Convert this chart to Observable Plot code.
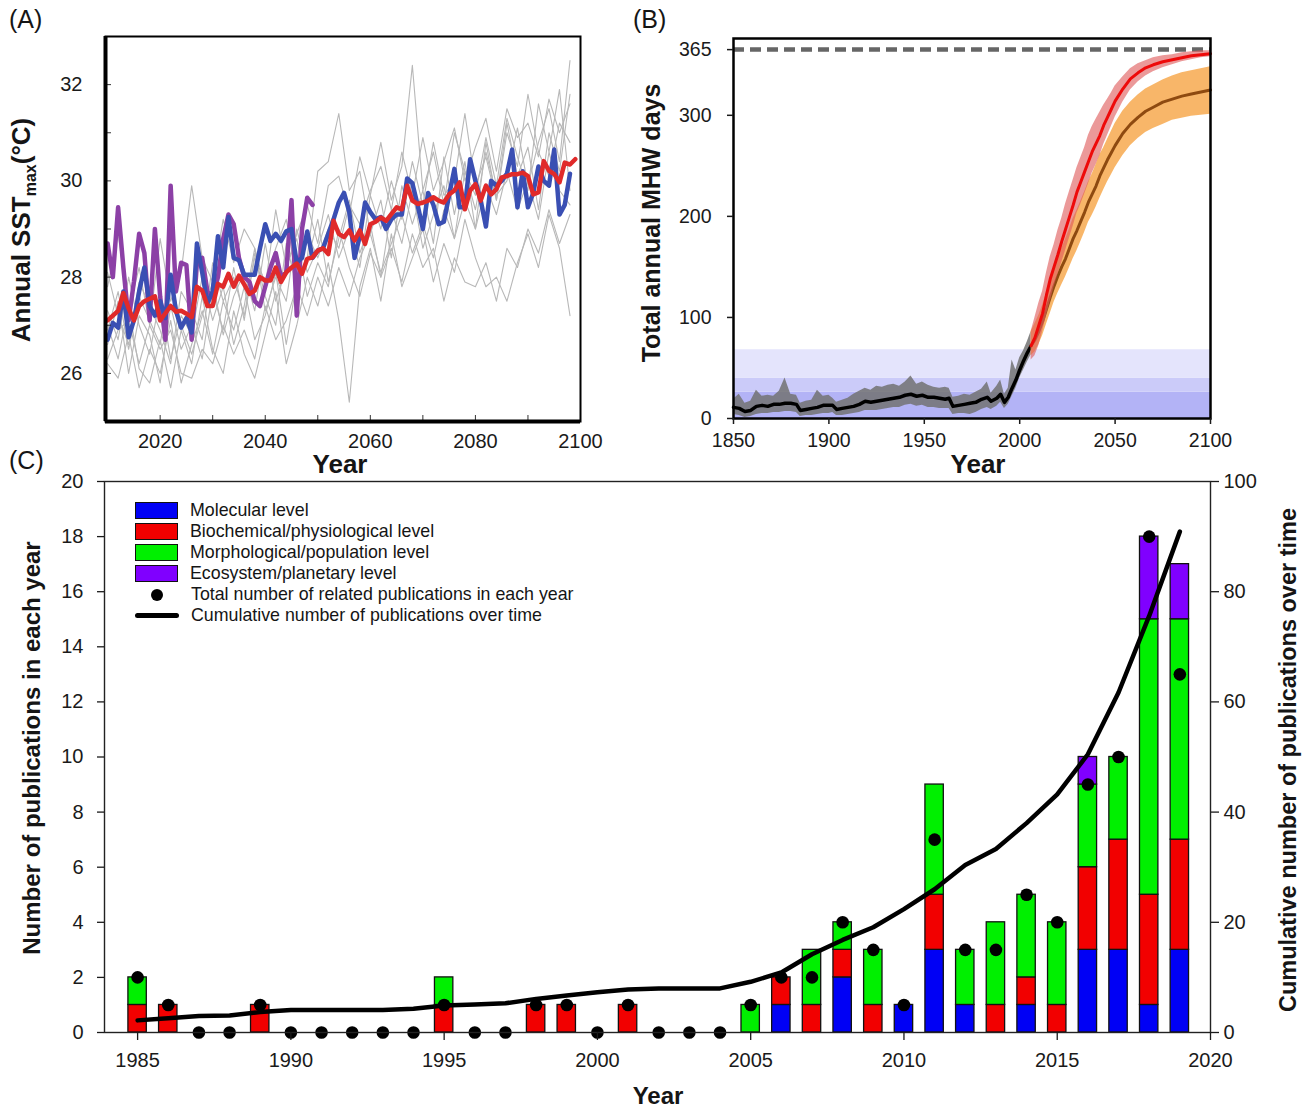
<!DOCTYPE html>
<html><head><meta charset="utf-8">
<script src="https://cdn.jsdelivr.net/npm/d3@7"></script>
<script src="https://cdn.jsdelivr.net/npm/@observablehq/plot@0.6"></script>
<style>
body{margin:0;background:#fff;font-family:"Liberation Sans",Arial,sans-serif;color:#151515}
#wrap{position:relative;width:1305px;height:1112px;overflow:hidden;background:#fff}
.pane{position:absolute}
.t{position:absolute;white-space:nowrap;transform:translate(-50%,-50%);line-height:1.15}
.b{font-weight:bold}
.rot{transform:translate(-50%,-50%) rotate(-90deg)}
.plab{position:absolute;font-size:25px;line-height:1}
.leg{position:absolute;left:135px;top:500px;font-size:17.8px}
.row{position:absolute;left:0;height:21px;display:flex;align-items:center;white-space:nowrap}
.sw{width:41px;height:15px;border:1.5px solid #111;margin-right:12px}
</style></head><body><div id="wrap"></div>
<script>
// ---------------- Panel A data ----------------
const aStart = 2010;
const aRed = [27.1,27.2,27.3,27.67,27.35,27.1,27.4,27.5,27.55,27.6,27.1,27.25,27.4,27.28,27.3,27.24,27.17,27.8,27.72,27.4,27.4,27.86,27.8,28.07,27.8,28.03,27.85,27.65,27.72,28.0,27.93,27.93,28.2,27.9,28.1,28.2,28.28,28.07,28.38,28.41,28.55,28.6,28.48,29.17,28.9,28.83,28.97,28.76,28.97,28.69,29.1,29.15,29.24,29.17,29.31,29.45,29.41,29.9,29.59,29.52,29.55,29.59,29.66,29.59,29.55,29.72,29.8,29.97,29.41,29.8,29.93,29.59,29.9,29.72,29.83,30.07,30.1,30.14,30.14,30.17,30.1,29.72,29.76,30.41,30.21,30.14,29.97,30.38,30.34,30.45];
const aBlue = [26.7,27.05,26.95,27.7,26.75,27.1,27.7,28.2,27.4,27.2,27.5,27.15,28.05,27.3,26.95,27.15,26.85,28.7,28.1,27.45,27.7,28.85,28.2,29.25,28.4,28.35,28.05,28.05,28.05,28.6,29.1,28.75,28.9,28.75,28.95,29.0,28.3,28.4,28.95,28.4,28.55,28.6,28.9,29.2,29.55,29.75,29.35,28.4,28.85,29.55,29.35,29.2,29.25,29.0,29.2,29.3,29.3,30.05,29.95,29.5,29.0,29.75,29.5,29.1,29.15,29.7,30.25,29.45,29.45,30.45,30.0,29.6,29.05,30.0,29.9,30.0,30.15,30.65,29.45,30.2,29.45,29.75,30.3,30.0,29.9,30.65,29.3,29.5,30.15];
const aPurple = [28.7,28.0,29.45,28.2,27.1,27.9,28.9,28.5,27.1,29.0,27.6,26.7,29.9,27.7,28.3,28.25,26.7,28.3,28.4,27.7,27.6,28.0,28.8,29.3,29.1,28.4,28.0,27.9,27.5,27.4,27.8,28.2,28.5,28.0,28.1,29.6,27.2,29.0,29.65,29.5];
const aGreyYears = [2010,2012,2014,2016,2018,2020,2022,2024,2026,2028,2030,2032,2034,2036,2038,2040,2042,2044,2046,2048,2050,2052,2054,2056,2058,2060,2062,2064,2066,2068,2070,2072,2074,2076,2078,2080,2082,2084,2086,2088,2090,2092,2094,2096,2098];
const aGrey1 = [26.2,25.9,26.8,25.7,26.5,26.0,27.1,25.8,26.6,27.3,26.4,27.5,26.9,27.8,26.7,27.2,28.1,26.6,27.9,28.4,30.2,30.4,31.4,29.8,30.2,28.9,29.6,28.4,29.9,29.1,29.8,28.7,30.5,29.3,30.4,29.0,30.8,29.6,31.2,30.1,30.7,29.4,31.0,30.2,31.8];
const aGrey2 = [27.0,26.3,27.4,26.1,25.8,26.7,25.7,26.9,26.2,27.6,26.5,26.0,27.3,26.4,25.9,26.8,27.7,26.2,27.0,28.0,27.4,28.3,27.1,25.4,27.8,28.6,27.5,28.9,27.8,28.4,29.0,27.9,28.7,28.1,29.2,28.4,27.8,28.0,27.5,28.3,28.9,28.2,29.3,28.6,27.2];
const aGrey3 = [27.8,28.9,27.3,28.2,27.0,28.8,27.5,28.1,29.9,28.4,27.9,29.2,28.3,29.0,28.6,27.8,29.4,28.2,28.9,29.5,28.7,29.9,30.1,29.3,30.5,29.7,30.8,29.6,30.3,32.4,29.8,30.6,29.5,31.0,30.2,29.7,30.9,29.9,31.3,30.5,29.8,31.6,30.6,31.9,29.8];
const aGrey4 = [26.6,27.5,26.0,27.2,26.8,25.8,27.4,26.5,27.0,26.3,27.7,26.9,28.2,27.1,28.5,27.6,27.0,28.7,27.8,28.3,29.2,27.9,28.8,29.6,28.5,29.1,28.0,29.4,28.7,29.8,28.6,29.3,29.9,28.8,30.2,29.4,30.6,29.7,30.0,31.1,29.9,30.8,31.5,30.4,32.5];
const aGrey5 = [27.3,26.7,28.0,27.0,26.4,27.6,26.3,27.2,26.8,28.0,27.1,27.8,26.6,27.4,28.6,27.3,28.0,27.5,29.0,28.1,28.6,29.3,28.4,29.0,28.2,29.7,29.0,30.0,29.2,30.4,29.5,30.8,29.7,30.0,31.4,29.9,30.5,29.6,31.0,30.3,31.8,30.6,30.1,31.2,30.8];
const aGrey6 = [26.9,27.7,26.5,27.6,27.1,26.6,28.0,27.0,26.4,27.2,27.9,26.8,27.6,28.1,27.3,28.7,27.5,28.2,28.8,27.6,28.3,27.8,29.0,28.2,27.6,28.5,28.0,28.6,27.9,28.9,28.2,28.6,27.5,28.4,27.9,27.8,28.3,27.5,28.6,28.2,29.0,28.5,29.4,28.7,29.3];
const aGrey7 = [28.1,27.2,26.6,27.9,27.4,26.9,26.2,27.7,27.3,26.7,28.3,27.5,28.0,27.2,28.4,27.9,28.6,29.2,28.0,28.9,28.4,29.0,28.6,29.5,29.1,29.8,30.3,29.4,30.6,29.7,30.9,29.8,30.4,31.1,30.0,30.7,31.3,30.2,31.5,30.9,31.2,30.5,31.7,31.0,31.6];
const aGrey8 = [26.3,26.9,27.1,26.2,27.0,26.5,26.9,26.0,25.9,26.5,26.2,27.0,26.4,26.9,26.3,27.4,26.7,27.1,27.8,27.2,28.0,27.4,28.2,27.6,28.4,28.9,28.1,28.7,29.3,28.5,29.1,28.4,29.4,28.8,29.6,29.0,29.9,29.3,30.2,29.4,30.0,29.2,30.6,29.8,29.5];
const aYTicks = [26,28,30,32];
const aYMinor = [26,27,28,29,30,31,32];
const aXTicks = [2020,2040,2060,2080,2100];
const aXMinor = [2020,2030,2040,2050,2060,2070,2080,2090];

// ---------------- Panel B data ----------------
const bHistYears = [1850,1853,1856,1859,1862,1865,1868,1871,1874,1877,1880,1883,1885,1888,1891,1894,1897,1900,1902,1904,1907,1910,1913,1916,1919,1922,1925,1928,1931,1934,1937,1940,1943,1946,1949,1952,1955,1958,1961,1963,1965,1968,1971,1974,1977,1980,1983,1985,1988,1990,1992,1994,1996,1998,2000,2002,2004,2006];
const bHistMean = [11,10,7,8,12,13,12,14,14,15,15,14,8,9,10,11,13,13,13,9,10,11,12,14,17,16,17,18,19,20,21,23,24,22,23,21,21,20,19,20,12,13,14,15,16,19,21,17,20,24,16,21,30,38,48,57,65,72];
const bHistLo = [4,3,1,2,4,5,5,6,6,7,7,6,2,3,3,4,5,5,6,3,3,4,5,6,8,8,8,9,10,11,11,13,14,12,13,11,11,10,10,10,4,5,5,4,6,9,11,9,12,16,10,14,22,30,40,48,56,63];
const bHistHi = [19,24,15,17,28,22,23,22,27,40,24,23,15,17,18,28,22,23,20,16,18,20,24,27,30,28,32,31,33,34,32,36,42,34,36,33,31,30,31,30,21,22,24,23,26,29,36,25,32,38,24,30,58,48,60,67,76,86];
const bProjYears = [2006,2008,2010,2012,2014,2016,2018,2020,2022,2024,2026,2028,2030,2032,2034,2036,2038,2040,2042,2044,2046,2048,2050,2054,2058,2062,2066,2070,2075,2080,2085,2090,2095,2100];
const bRedMean = [72,80,92,104,122,138,150,162,175,187,199,211,224,234,244,254,264,272,280,290,298,306,314,326,336,342,347,350,353,355,357,359,360,361];
const bRedLo = [58,62,72,86,102,116,130,142,154,166,178,190,203,212,222,232,243,251,260,271,280,289,298,313,325,333,339,343,347,350,353,355,357,358];
const bRedHi = [86,100,114,126,144,160,172,186,198,212,224,236,248,258,268,280,289,296,303,310,316,322,329,338,346,351,354,357,359,360,362,363,364,364];
const bBrownMean = [72,78,86,96,108,120,131,141,150,158,168,178,186,195,204,214,222,230,240,248,256,263,270,282,291,298,304,308,313,316,319,321,323,325];
const bBrownLo = [62,66,73,82,93,104,115,124,132,140,149,158,166,175,184,194,201,209,218,226,234,241,248,260,270,277,283,287,291,295,297,299,300,301];
const bBrownHi = [86,94,102,112,124,136,148,159,168,177,187,198,206,215,224,234,242,251,261,268,276,284,292,304,313,320,326,330,335,339,342,344,346,348];
const bBandLo = [0,26,40];
const bBandHi = [26,40,68];
const bBandColor = ["#b3b3f6","#cbcbf9","#e4e4fc"];
const bYTicks = [0,100,200,300,365];
const bXTicks = [1850,1900,1950,2000,2050,2100];
const bDaysInYear = [365];

// ---------------- Panel C data ----------------
const cYears = [1985,1986,1987,1988,1989,1990,1991,1992,1993,1994,1995,1996,1997,1998,1999,2000,2001,2002,2003,2004,2005,2006,2007,2008,2009,2010,2011,2012,2013,2014,2015,2016,2017,2018,2019];
const cLevels = ["Molecular level","Biochemical/physiological level","Morphological/population level","Ecosystem/planetary level"];
const cColors = ["#0000f5","#f20000","#00f000","#8000ff"];
const cMolecular = [0,0,0,0,0,0,0,0,0,0, 0,0,0,0,0,0,0,0,0,0, 0,1,0,2,0,1,3,1,0,1,0,3,3,1,3];
const cBiochem   = [1,1,0,0,1,0,0,0,0,0, 1,0,0,1,1,0,1,0,0,0, 0,1,1,1,1,0,2,0,1,1,1,3,4,4,4];
const cMorph     = [1,0,0,0,0,0,0,0,0,0, 1,0,0,0,0,0,0,0,0,0, 1,0,2,1,2,0,4,2,3,3,3,3,3,10,8];
const cEco       = [0,0,0,0,0,0,0,0,0,0, 0,0,0,0,0,0,0,0,0,0, 0,0,0,0,0,0,0,0,0,0,0,1,0,3,2];
const cTotal     = [2,1,0,0,1,0,0,0,0,0, 1,0,0,1,1,0,1,0,0,0, 1,2,2,4,3,1,7,3,3,5,4,9,10,18,13];
const cCumulative = [2.2,2.6,3.0,3.1,3.7,4.1,4.1,4.1,4.1,4.3, 4.9,5.1,5.3,6.1,6.7,7.3,7.8,8.0,8.0,8.0, 9.2,10.9,14.2,16.8,19.1,22.4,26.0,30.4,33.3,38.0,43.2,50.5,61.7,75.6,90.9];
const cLeftTicks = [0,2,4,6,8,10,12,14,16,18,20];
const cRightTicks = [0,20,40,60,80,100];
const cXTicks = [1985,1990,1995,2000,2005,2010,2015,2020];
const cDotLabel = "Total number of related publications in each year";
const cLineLabel = "Cumulative number of publications over time";

// ---------------- build ----------------
const FONT = "Liberation Sans, Arial, Helvetica, sans-serif";
const wrap = document.getElementById("wrap");
function place(node, left, top){ const d=document.createElement("div"); d.className="pane"; d.style.left=left+"px"; d.style.top=top+"px"; d.appendChild(node); wrap.appendChild(d); }

// Panel A
const seriesA = (arr, start) => arr.map((v,i)=>({year:start+i, v}));
const aGreyAll = [aGrey1,aGrey2,aGrey3,aGrey4,aGrey5,aGrey6,aGrey7,aGrey8];
const aGreyData = aGreyAll.flatMap((s,k)=>s.map((v,j)=>({year:aGreyYears[j], v, run:k})));
const aW=620,aH=480,aML=105,aMR=40,aMT=36,aMB=59;
const plotA = Plot.plot({
  width:aW,height:aH,marginLeft:aML,marginRight:aMR,marginTop:aMT,marginBottom:aMB,
  x:{domain:[2009.6,2100],label:null}, y:{domain:[25,33],label:null},
  style:{fontFamily:FONT,fontSize:"20px",color:"#1a1a1a",background:"transparent",overflow:"visible"},
  marks:[
    Plot.line(aGreyData,{x:"year",y:"v",z:"run",stroke:"#b8b8b8",strokeWidth:1.1}),
    Plot.line(seriesA(aPurple,aStart),{x:"year",y:"v",stroke:"#8c40a6",strokeWidth:4.5,strokeLinejoin:"round"}),
    Plot.line(seriesA(aBlue,aStart),{x:"year",y:"v",stroke:"#3a4fb3",strokeWidth:4.5,strokeLinejoin:"round"}),
    Plot.line(seriesA(aRed,aStart),{x:"year",y:"v",stroke:"#e02a2a",strokeWidth:4.5,strokeLinejoin:"round"}),
    Plot.tickY(aYMinor,{y:d=>d,insetRight:aW-aML-aMR-6,stroke:"#333",strokeWidth:1}),
    Plot.tickX(aXMinor,{x:d=>d,insetTop:aH-aMT-aMB-6,stroke:"#333",strokeWidth:1}),
    Plot.frame({stroke:"#000",strokeWidth:2}),
    Plot.ruleX([2009.6],{stroke:"#000",strokeWidth:4}),
    Plot.ruleY([25],{stroke:"#000",strokeWidth:4}),
    Plot.axisY({ticks:aYTicks,tickSize:0,tickPadding:23,label:null}),
    Plot.axisX({ticks:aXTicks,tickSize:0,tickPadding:12,tickFormat:"d",label:null})
  ]
});
place(plotA,0,0);

// Panel B
const hist = bHistYears.map((y,i)=>({year:y,mean:bHistMean[i],lo:bHistLo[i],hi:bHistHi[i]}));
const redP = bProjYears.map((y,i)=>({year:y,mean:bRedMean[i],lo:bRedLo[i],hi:bRedHi[i]}));
const brownP = bProjYears.map((y,i)=>({year:y,mean:bBrownMean[i],lo:bBrownLo[i],hi:bBrownHi[i]}));
const bands = bBandLo.map((lo,i)=>({lo,hi:bBandHi[i],color:bBandColor[i]}));
const plotB = Plot.plot({
  width:685,height:480,marginLeft:113,marginRight:95,marginTop:38,marginBottom:62,
  x:{domain:[1850,2100],label:null}, y:{domain:[0,376],label:null},
  style:{fontFamily:FONT,fontSize:"19.5px",color:"#1a1a1a",background:"transparent",overflow:"visible"},
  marks:[
    Plot.rectY(bands,{y1:"lo",y2:"hi",fill:d=>d.color}),
    Plot.ruleY(bDaysInYear,{stroke:"#666",strokeWidth:4.5,strokeDasharray:"11,6"}),
    Plot.areaY(hist,{x:"year",y1:"lo",y2:"hi",fill:"#727272",fillOpacity:0.85}),
    Plot.line(hist,{x:"year",y:"mean",stroke:"#000",strokeWidth:3.5}),
    Plot.areaY(brownP,{x:"year",y1:"lo",y2:"hi",fill:"#f6a443",fillOpacity:0.8}),
    Plot.line(brownP,{x:"year",y:"mean",stroke:"#8e4a10",strokeWidth:3}),
    Plot.areaY(redP,{x:"year",y1:"lo",y2:"hi",fill:"#de5a5a",fillOpacity:0.62}),
    Plot.line(redP,{x:"year",y:"mean",stroke:"#ee0a0a",strokeWidth:3}),
    Plot.frame({stroke:"#000",strokeWidth:2.5}),
    Plot.axisY({ticks:bYTicks,tickSize:6,tickPadding:16,label:null,strokeWidth:1.5}),
    Plot.axisX({ticks:bXTicks,tickSize:6,tickPadding:9,tickFormat:"d",label:null,strokeWidth:1.5})
  ]
});
place(plotB,620,0);

// Panel C
const stacked = [];
cYears.forEach((yr,i)=>{
  let base = 0;
  [cMolecular,cBiochem,cMorph,cEco].forEach((arr,k)=>{
    const n = arr[i];
    if (n>0){ stacked.push({year:yr,y1:base,y2:base+n,color:cColors[k]}); base+=n; }
  });
});
const totals = cYears.map((y,i)=>({year:y,total:cTotal[i]}));
const cum = cYears.map((y,i)=>({year:y,cum:cCumulative[i]}));
const plotC = Plot.plot({
  width:1305,height:642,marginLeft:104,marginRight:95,marginTop:11,marginBottom:80,
  x:{domain:[1983.92,2020],label:null}, y:{domain:[0,20],label:null},
  style:{fontFamily:FONT,fontSize:"20px",color:"#1a1a1a",background:"transparent",overflow:"visible"},
  marks:[
    Plot.rectY(stacked,{x1:d=>d.year-0.3,x2:d=>d.year+0.3,y1:"y1",y2:"y2",fill:d=>d.color,stroke:"#111",strokeWidth:1.3}),
    Plot.line(cum,{x:"year",y:d=>d.cum/5,stroke:"#000",strokeWidth:4.5,strokeLinejoin:"round"}),
    Plot.dot(totals,{x:"year",y:"total",r:6.3,fill:"#000"}),
    Plot.frame({stroke:"#222",strokeWidth:1.4}),
    Plot.axisY({ticks:cLeftTicks,tickSize:7,tickPadding:14,label:null,strokeWidth:1.3}),
    Plot.axisY({anchor:"right",ticks:cRightTicks.map(v=>v/5),tickFormat:d=>String(Math.round(d*5)),tickSize:8,tickPadding:5,label:null,strokeWidth:1.3}),
    Plot.axisX({ticks:cXTicks,tickSize:8,tickPadding:12,tickFormat:"d",label:null,strokeWidth:1.3})
  ]
});
place(plotC,0,470);

// Overlays: labels and titles
function txt(html, cx, cy, size, cls){ const d=document.createElement("div"); d.className="t "+(cls||""); d.style.left=cx+"px"; d.style.top=cy+"px"; d.style.fontSize=size+"px"; d.innerHTML=html; wrap.appendChild(d); return d; }
function plab(s,l,t){ const d=document.createElement("div"); d.className="plab"; d.style.left=l+"px"; d.style.top=t+"px"; d.textContent=s; wrap.appendChild(d); }
plab("(A)",9,7); plab("(B)",633,7); plab("(C)",9,448);
txt('Annual SST<sub style="font-size:16px;vertical-align:-6px">max</sub>(°C)',24,230,26,"b rot");
txt("Year",340,465,26,"b");
txt("Total annual MHW days",651,223,25,"b rot");
txt("Year",978,465,26,"b");
txt("Number of publications in each year",32,748,24,"b rot");
txt("Cumulative number of publications over time",1289,760,23.5,"b rot");
txt("Year",658,1096,24,"b");

// Legend for panel C
const leg = document.createElement("div"); leg.className="leg"; wrap.appendChild(leg);
const rowTops = [0,21,42,63,84,105];
cLevels.forEach((name,k)=>{
  const r=document.createElement("div"); r.className="row"; r.style.top=rowTops[k]+"px";
  r.innerHTML=`<div class="sw" style="background:${cColors[k]}"></div><span>${name}</span>`;
  leg.appendChild(r);
});
const r5=document.createElement("div"); r5.className="row"; r5.style.top=rowTops[4]+"px";
r5.innerHTML=`<div style="width:44px;margin-right:12px;display:flex;justify-content:center"><div style="width:12px;height:12px;border-radius:50%;background:#000"></div></div><span>${cDotLabel}</span>`;
leg.appendChild(r5);
const r6=document.createElement("div"); r6.className="row"; r6.style.top=rowTops[5]+"px";
r6.innerHTML=`<div style="width:44px;height:4.5px;border-radius:3px;background:#000;margin-right:12px"></div><span>${cLineLabel}</span>`;
leg.appendChild(r6);
</script>
</body></html>
